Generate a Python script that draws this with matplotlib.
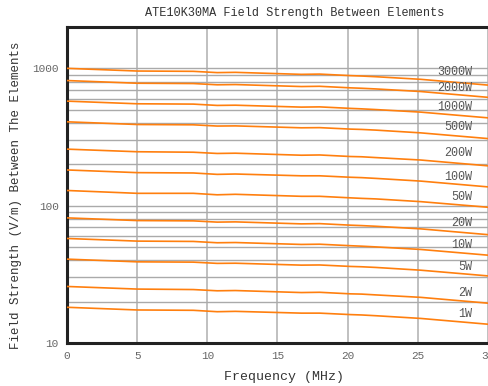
import matplotlib
matplotlib.use('Agg')
import matplotlib.pyplot as plt
import numpy as np
from matplotlib.ticker import LogLocator, FixedLocator, NullFormatter

freq = [0, 5, 9, 10.7, 12, 16.7, 18, 20.2, 21, 22, 25.2, 30]

powers = ['3000W', '2000W', '1000W', '500W', '200W', '100W',
          '50W', '20W', '10W', '5W', '2W', '1W']

field = [
    [1000, 956, 951, 931, 935, 904, 908, 885, 879, 869, 832, 755],
    [815, 779, 775, 759, 762, 737, 740, 721, 716, 708, 678, 615],
    [577, 552, 549, 537, 539, 522, 524, 511, 507, 501, 480, 436],
    [408, 390, 388, 380, 381, 369, 370, 361, 359, 355, 339, 308],
    [258, 247, 245, 240, 241, 233, 234, 228, 227, 224, 215, 195],
    [182, 174, 173, 169, 170, 165, 165, 161, 160, 158, 151, 137],
    [129, 123, 123, 120, 121, 117, 117, 114, 113, 112, 107, 97.4],
    [81.5, 77.9, 77.5, 75.9, 76.2, 73.7, 74.0, 72.1, 71.6, 70.8, 67.8, 61.5],
    [57.7, 55.2, 54.9, 53.7, 53.9, 52.2, 52.4, 51.1, 50.7, 50.1, 48.0, 43.6],
    [40.8, 39.0, 38.8, 38.0, 38.1, 36.9, 37.0, 36.1, 35.9, 35.5, 33.9, 30.8],
    [25.8, 24.7, 24.5, 24.0, 24.1, 23.3, 23.4, 22.8, 22.7, 22.4, 21.5, 19.5],
    [18.2, 17.4, 17.3, 16.9, 17.0, 16.5, 16.5, 16.1, 16.0, 15.8, 15.1, 13.7],
]

# where the power labels sit (right aligned)
label_x = 28.9
label_y = [940, 723, 522, 373, 242, 162, 116, 74.8, 51.9, 35.7, 23.1, 16.2]

matplotlib.rc('font', family='Liberation Mono', size=8)

fig = plt.figure(figsize=(4.89, 3.86), dpi=100)
ax = fig.add_axes([67/489, 1 - 343/386, 421/489, 316/386])

for vals, name, ly in zip(field, powers, label_y):
    ax.plot(freq, vals, color='#ff7f0e', lw=1.2, zorder=3)
    ax.text(label_x, ly, name, ha='right', va='center',
            color='#555555', fontsize=8.5, zorder=4)

ax.set_yscale('log')
ax.set_xlim(0, 30)
ax.set_ylim(10, 2000)

ax.xaxis.set_major_locator(FixedLocator([0, 5, 10, 15, 20, 25, 30]))
ax.yaxis.set_major_locator(FixedLocator([10, 100, 1000]))
ax.yaxis.set_major_formatter(matplotlib.ticker.FixedFormatter(['10', '100', '1000']))
ax.yaxis.set_minor_locator(LogLocator(base=10, subs=np.arange(2, 10)))
ax.yaxis.set_minor_formatter(NullFormatter())

ax.grid(True, which='both', axis='y', color='#aaaaaa', lw=1)
ax.grid(True, which='major', axis='x', color='#b5b5b5', lw=1.2)
ax.tick_params(which='both', length=0, colors='#666666', labelsize=8)
ax.tick_params(axis='y', pad=6)
ax.tick_params(axis='x', pad=6)

for s in ['left', 'bottom', 'top']:
    ax.spines[s].set_linewidth(2.2)
    ax.spines[s].set_color('#222222')
ax.spines['right'].set_visible(False)

fig.text(295/489, 1 - 13/386, 'ATE10K30MA Field Strength Between Elements',
         ha='center', va='center', fontsize=8.6, color='#333333')
fig.text(284/489, 1 - 377/386, 'Frequency (MHz)',
         ha='center', va='center', fontsize=9.5, color='#333333')
fig.text(16/489, 1 - 195/386, 'Field Strength (V/m) Between The Elements',
         ha='center', va='center', rotation=90, fontsize=9, color='#333333')

fig.savefig('out.png', dpi=100)
